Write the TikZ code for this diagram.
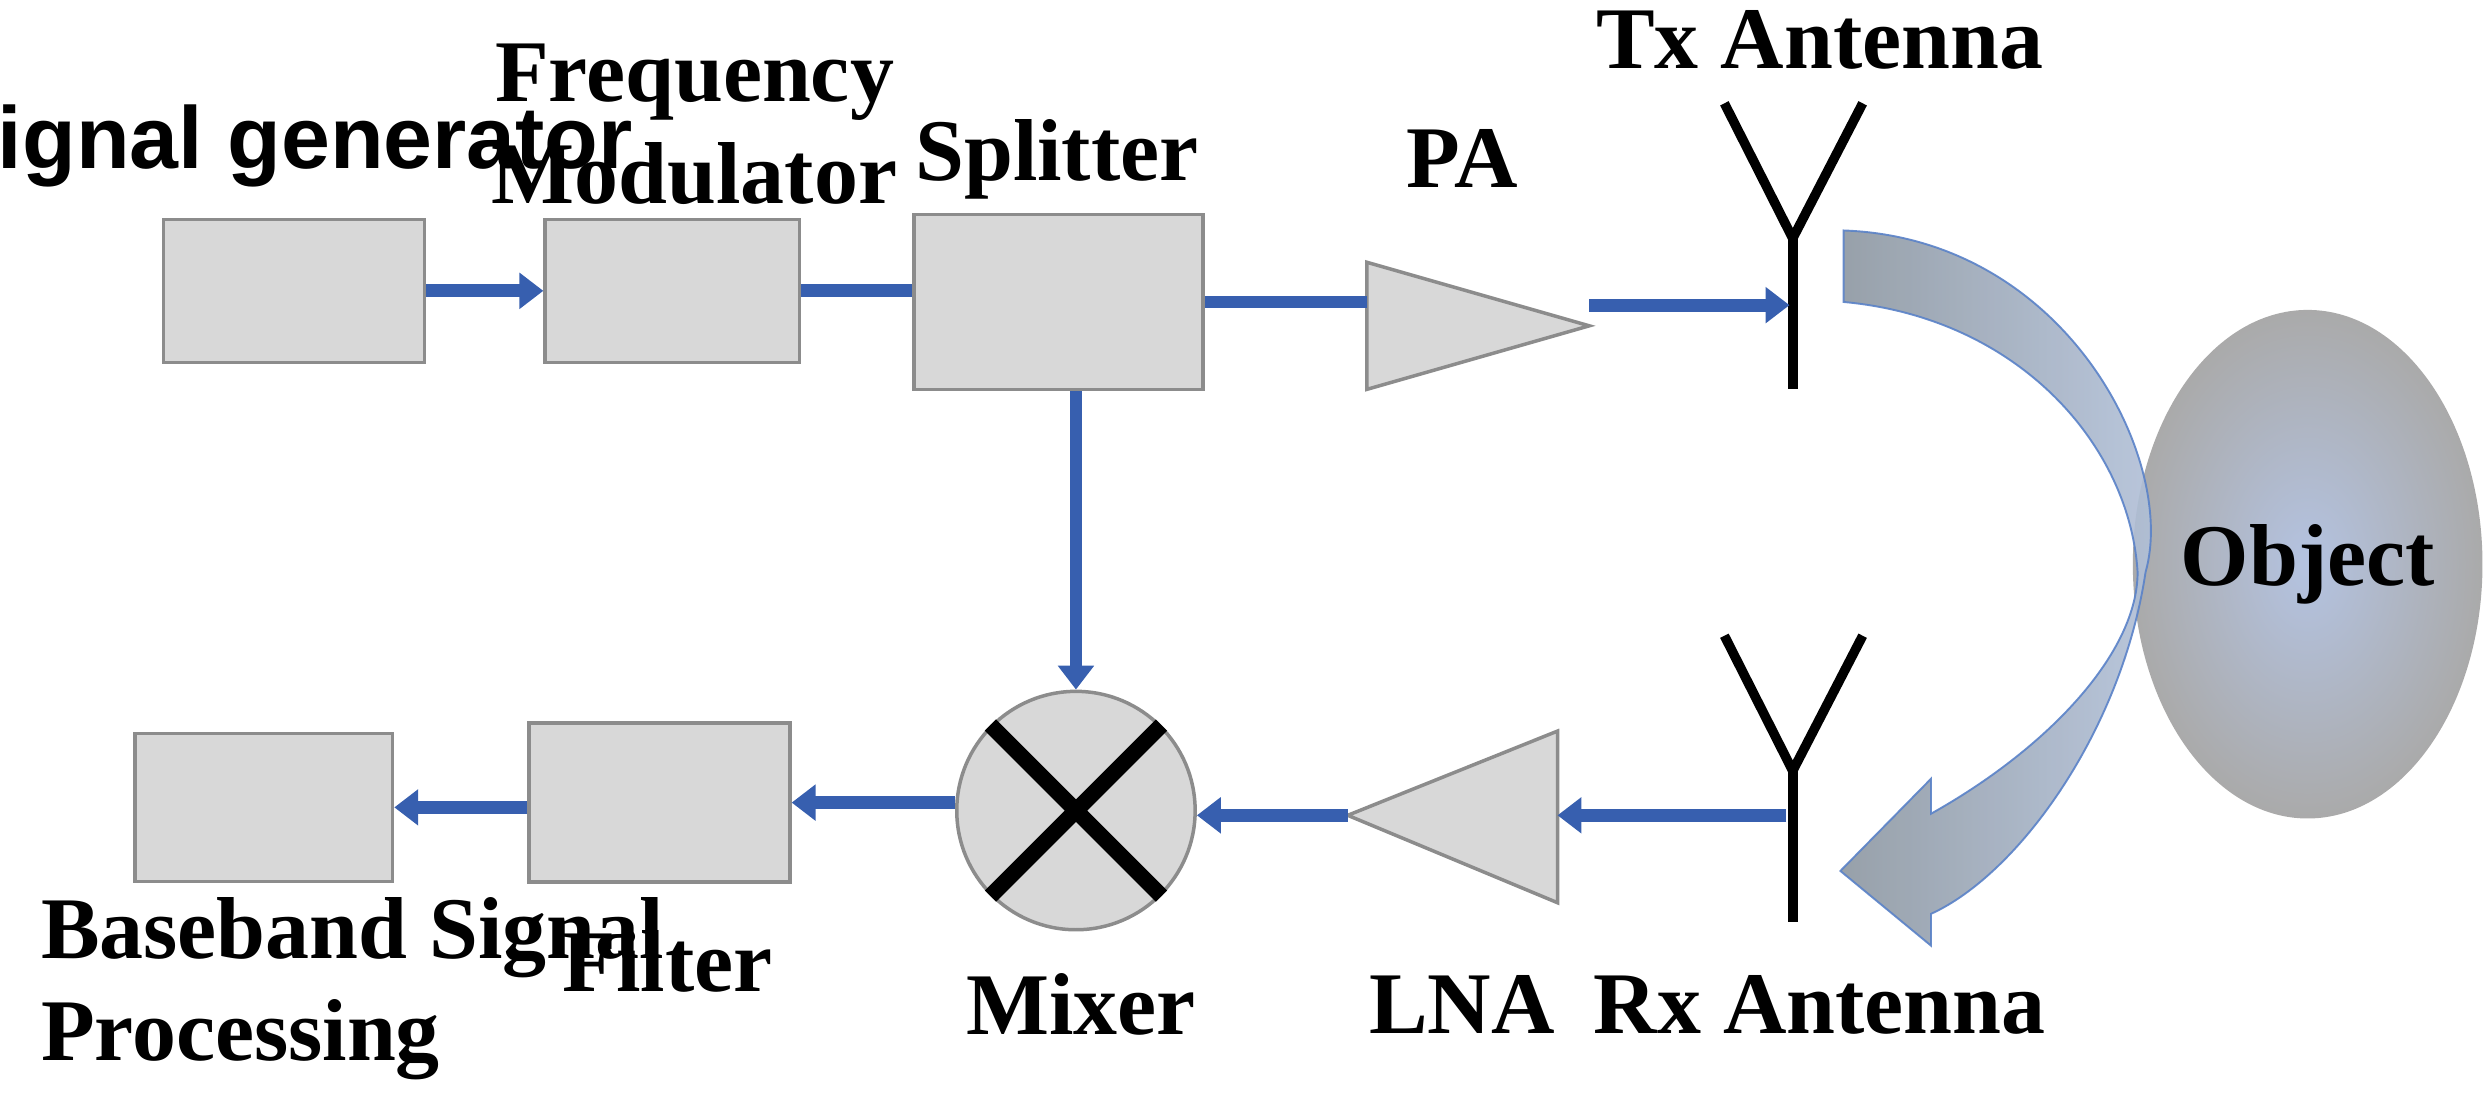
\documentclass[tikz,border=0pt]{standalone}
\usepackage{fontspec}
\setmainfont{Liberation Serif}
\newfontfamily\sansf{Liberation Sans}
\usetikzlibrary{arrows.meta,shapes.geometric}
\definecolor{boxfill}{RGB}{216,216,216}
\definecolor{boxedge}{RGB}{140,140,140}
\definecolor{wire}{RGB}{55,95,175}
\newlength\pu \setlength\pu{0.01589cm}
\begin{document}
\begin{tikzpicture}[x=\pu,y=-\pu,
 blk/.style={draw=boxedge,line width=2.2\pu,fill=boxfill,inner sep=0pt},
 lbl/.style={font=\bfseries\fontsize{25}{29}\selectfont,align=center},
 w/.style={draw=wire,line width=8\pu},
 wa/.style={w,-{Triangle[length=6.8pt,width=9.9pt]}},
 ant/.style={line width=6\pu,black}]
\useasboundingbox (0,0) rectangle (1568,698.5);
% blocks
\node[blk,minimum width=164\pu,minimum height=90\pu] (sg) at (185,183) {};
\node[blk,minimum width=160\pu,minimum height=90\pu] (fm) at (423,183) {};
\node[blk,minimum width=182\pu,minimum height=110\pu] (sp) at (666,190) {};
\node[blk,minimum width=164\pu,minimum height=100\pu] (fi) at (415,505) {};
\node[blk,minimum width=162\pu,minimum height=93\pu] (bb) at (166,508) {};
\node[blk,circle,minimum size=150\pu] (mx) at (677,510) {};
\draw[line width=10\pu,black] (mx.45) -- (mx.225) (mx.135) -- (mx.-45);
% amplifiers
\draw[blk] (860,165) -- (1000,205) -- (860,245) -- cycle;
\coordinate (paL) at (860,190); \coordinate (paR) at (1000,192);
\draw[blk] (980,460) -- (848,513) -- (980,568) -- cycle;
\coordinate (lnaL) at (848,513); \coordinate (lnaR) at (980,513);
% antennas
\coordinate (tx) at (1128,150); \coordinate (txb) at (1128,245);
\draw[ant] (1085,65) -- (tx) -- (1172,65); \draw[ant] (tx) -- (txb);
\coordinate (rx) at (1128,485); \coordinate (rxb) at (1128,580);
\draw[ant] (1085,400) -- (rx) -- (1172,400); \draw[ant] (rx) -- (rxb);
\coordinate (txin) at (1126,192); \coordinate (rxo) at (1124,513);
% object
\shade[inner color={rgb,255:red,180;green,195;blue,225},outer color={rgb,255:red,170;green,170;blue,170}] (1452,355) ellipse [x radius=110,y radius=160];
\node[lbl] (obj) at (1452,355) {Object};
% curved arrow
\shade[left color={rgb,255:red,140;green,150;blue,160},right color={rgb,255:red,180;green,195;blue,220},opacity=0.9,draw={rgb,255:red,90;green,130;blue,200},line width=1.2\pu]
 (1160,145) .. controls (1300,150) and (1370,290) .. (1350,360)
 .. controls (1335,460) and (1270,550) .. (1215,575) -- (1215,595) -- (1158,548) -- (1215,490) -- (1215,512)
 .. controls (1290,470) and (1345,410) .. (1345,360)
 .. controls (1340,280) and (1270,200) .. (1160,190) -- cycle;
% connectors
\draw[wa] (sg.east) -- (fm.west);
\draw[w] (fm.east) -- (sp.west |- fm.east);
\draw[w] (sp.east |- paL) -- (paL);
\draw[wa] (paR) -- (txin);
\draw[wa] (sp.south -| mx.north) -- (mx.north);
\draw[wa] (rxo) -- (lnaR);
\draw[wa] (lnaL) -- (mx.east |- lnaL);
\draw[wa] (mx.west |- fi.east) -- (fi.east);
\draw[wa] (fi.west |- bb.east) -- (bb.east);
% labels
\node[lbl,font=\sansf\bfseries\fontsize{25}{29}\selectfont] (lsg) at (180,92) {Signal generator};
\node[lbl] (lfm) at (437,78) {Frequency\\Modulator};
\node[lbl] (lsp) at (665,100) {Splitter};
\node[lbl] (lpa) at (920,100) {PA};
\node[lbl] (ltx) at (1145,25) {Tx Antenna};
\node[lbl] (lrx) at (1145,632) {Rx Antenna};
\node[lbl] (llna) at (920,632) {LNA};
\node[lbl] (lmx) at (680,632) {Mixer};
\node[lbl] (lfi) at (420,605) {Filter};
\node[lbl,align=left,anchor=west] (lbb) at (18,622) {Baseband Signal\\Processing};
\end{tikzpicture}
\end{document}
